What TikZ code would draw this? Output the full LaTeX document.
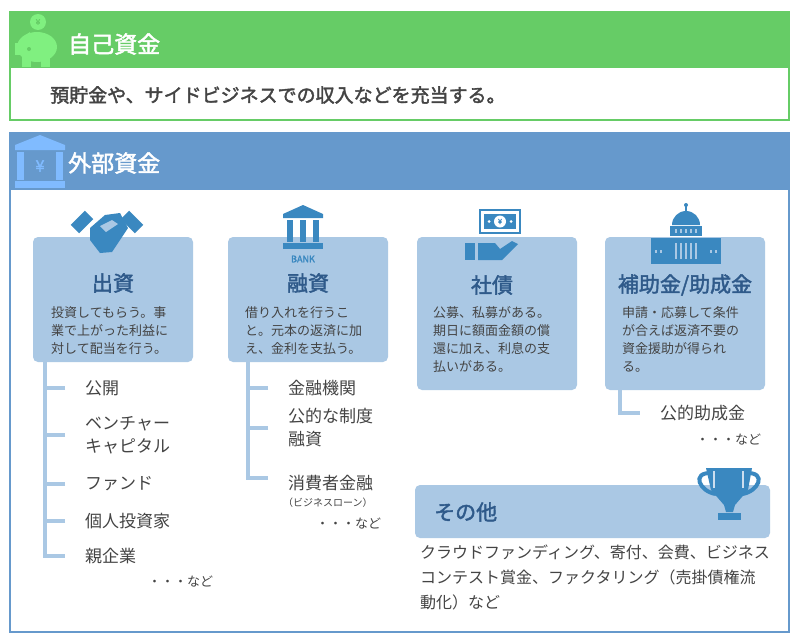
\documentclass[tikz,border=0pt]{standalone}
\usepackage{fontspec}
\setmainfont{Noto Sans CJK JP}
\newfontfamily\jpb{Noto Sans CJK JP}[FakeBold=2]
\definecolor{grn}{HTML}{66CC66}
\definecolor{pig}{HTML}{80F080}
\definecolor{hblue}{HTML}{6699CC}
\definecolor{bankic}{HTML}{80BBFF}
\definecolor{card}{HTML}{AAC8E4}
\definecolor{icon}{HTML}{3A88C0}
\definecolor{ttl}{HTML}{2F5A8A}
\definecolor{txt}{HTML}{444444}
\begin{document}
\begin{tikzpicture}[x=1pt,y=-1pt,
  cardbox/.style={fill=card,rounded corners=5pt,draw=none},
  ctitle/.style={font=\fontsize{21}{24}\selectfont\jpb,text=ttl},
  cdesc/.style={font=\fontsize{13}{18}\selectfont,text=txt,align=left,anchor=north west,inner sep=0},
  item/.style={font=\fontsize{17}{23}\selectfont,text=txt,anchor=west,inner sep=0,align=left},
  tree/.style={draw=card,line width=4pt},
  hdr/.style={font=\fontsize{23}{26}\selectfont\jpb,text=white,anchor=west,inner sep=0}]
\useasboundingbox (0,0) rectangle (800,640);
\fill[white] (0,0) rectangle (800,640);
% self funds
\draw[grn,line width=1.5pt] (10,12) rectangle (789,120);
\fill[grn] (10,12) rectangle (789,68);
\node[hdr] (h1) at (68,44) {自己資金};
\node[font=\fontsize{19}{22}\selectfont\jpb,text=txt,anchor=west,inner sep=0] (b1) at (50,95) {預貯金や、サイドビジネスでの収入などを充当する。};
% piggy
\fill[pig] (38,22) circle (8);
\node[text=grn,font=\fontsize{8}{8}\selectfont\jpb,inner sep=0] (yen1) at (38,22) {¥};
\fill[pig] (37,47) ellipse (20 and 15);
\fill[pig] (15,43) rectangle (22,55);
\fill[pig] (24,36) -- (30,32) -- (32,42) -- cycle;
\fill[pig] (22,55) rectangle (31,67);
\fill[pig] (41,55) rectangle (50,67);
\fill[grn] (29,49) circle (2);
% external funds
\draw[hblue,line width=1.5pt] (10,133) rectangle (789,632);
\fill[hblue] (10,133) rectangle (789,190);
\node[hdr] (h2) at (68,163) {外部資金};
% bank icon
\fill[bankic] (15,145) -- (40,135) -- (65,145) -- (65,150) -- (15,150) -- cycle;
\fill[bankic] (17,152) rectangle (24,180);
\fill[bankic] (56,152) rectangle (63,180);
\fill[bankic] (15,181) rectangle (65,188);
\node[text=bankic,font=\fontsize{16}{16}\selectfont\jpb,inner sep=0] (yen2) at (40,166) {¥};
% cards
\fill[cardbox] (33,237) rectangle (193,362);
\fill[cardbox] (228,237) rectangle (388,362);
\fill[cardbox] (417,237) rectangle (577,390);
\fill[cardbox] (605,237) rectangle (765,390);
\node[ctitle] (t1) at (113,283) {出資};
\node[ctitle] (t2) at (308,283) {融資};
\node[ctitle] (t3) at (492,285) {社債};
\node[ctitle] (t4) at (685,285) {補助金/助成金};
\node[cdesc] (d1) at (51,306) {投資してもらう。事\\業で上がった利益に\\対して配当を行う。};
\node[cdesc] (d2) at (245,306) {借り入れを行うこ\\と。元本の返済に加\\え、金利を支払う。};
\node[cdesc] (d3) at (433,306) {公募、私募がある。\\期日に額面金額の償\\還に加え、利息の支\\払いがある。};
\node[cdesc] (d4) at (622,306) {申請・応募して条件\\が合えば返済不要の\\資金援助が得られ\\る。};
% handshake icon
\begin{scope}[icon]
\fill[rotate around={-45:(82,222)}] (76,212) rectangle (88,232);
\fill[rotate around={45:(132,222)}] (126,212) rectangle (138,232);
\fill (90,228) -- (105,215) -- (120,213) -- (128,228) -- (112,252) -- (100,253) -- (90,240) -- cycle;
\fill[card] (100,226) -- (112,220) -- (118,224) -- (106,232) -- cycle;
% bank
\fill (283,214) -- (303,205) -- (323,214) -- (323,218) -- (283,218) -- cycle;
\fill (287,220) rectangle (293,242);
\fill (300,220) rectangle (306,242);
\fill (313,220) rectangle (319,242);
\fill (283,243) rectangle (323,249);
\node[font=\fontsize{9}{9}\selectfont\jpb,text=icon,inner sep=0] (bank) at (303,259) {BANK};
% money + hand
\draw[line width=1.5pt] (480,210) rectangle (520,233);
\fill (484,214) rectangle (516,229);
\fill[white] (500,221.5) circle (6);
\fill[white] (489,221.5) circle (1.5);
\fill[white] (511,221.5) circle (1.5);
\node[font=\fontsize{7}{7}\selectfont\jpb,text=icon,inner sep=0] (yen3) at (500,221.5) {¥};
\fill (465,243) rectangle (475,260);
\fill (478,243) -- (495,243) -- (500,249) -- (512,241) -- (518,244) -- (502,260) -- (478,260) -- cycle;
% capitol
\fill (686,205) circle (2);
\fill (685.3,206) rectangle (686.7,212);
\fill (672,225) arc (180:360:14) -- cycle;
\fill (670,226) rectangle (702,236);
\fill (651,238) rectangle (721,264);
\foreach \xx in {676,681,686,691,696} {\fill[card] (\xx-1,229) rectangle (\xx+1,233);}
\foreach \xx in {676,681,686,691,696} {\fill[card] (\xx-1,243) rectangle (\xx+1,259);}
\foreach \xx in {656,661,711,716} {\fill[card] (\xx-1,250) rectangle (\xx+1,253);}
\end{scope}
% trees
\coordinate (a0) at (45,362);
\coordinate (a1) at (65,388); \coordinate (a2) at (65,435); \coordinate (a3) at (65,484);
\coordinate (a4) at (65,521); \coordinate (a5) at (65,556);
\draw[tree] (a0) -- (45,556) -- (a5);
\foreach \c in {a1,a2,a3,a4} \draw[tree] (\c) -- (45,0 |- \c);
\node[item] (i1) at (85,388) {公開};
\node[item] (i2) at (85,435) {ベンチャー\\キャピタル};
\node[item] (i3) at (85,484) {ファンド};
\node[item] (i4) at (85,521) {個人投資家};
\node[item] (i5) at (85,556) {親企業};
\node[item,font=\fontsize{13}{16}\selectfont] (e1) at (148,582) {・・・など};
\coordinate (b0) at (248,362);
\coordinate (b1) at (268,388); \coordinate (b2) at (268,428); \coordinate (b3) at (268,478);
\draw[tree] (b0) -- (248,478) -- (b3);
\foreach \c in {b1,b2} \draw[tree] (\c) -- (248,0 |- \c);
\node[item] (j1) at (288,388) {金融機関};
\node[item] (j2) at (288,428) {公的な制度\\融資};
\node[item] (j3) at (288,483) {消費者金融};
\node[item,font=\fontsize{10}{12}\selectfont] (j4) at (283,503) {（ビジネスローン）};
\node[item,font=\fontsize{13}{16}\selectfont] (e2) at (316,524) {・・・など};
\coordinate (c0) at (620,390); \coordinate (c1) at (640,413);
\draw[tree] (c0) -- (620,413) -- (c1);
\node[item] (k1) at (660,413) {公的助成金};
\node[item,font=\fontsize{13}{16}\selectfont] (e3) at (696,440) {・・・など};
% other
\fill[cardbox] (415,485) rectangle (770,538);
\node[ctitle,anchor=west,inner sep=0] (t5) at (434,512) {その他};
\begin{scope}[icon]
\fill (706,468) -- (752,468) -- (748,490) -- (735,505) -- (733,512) -- (726,512) -- (724,505) -- (711,490) -- cycle;
\draw[line width=4pt] (712,473) .. controls (690,472) and (700,492) .. (716,494);
\draw[line width=4pt] (746,473) .. controls (768,472) and (758,492) .. (742,494);
\fill (718,513) rectangle (741,520);
\fill[card!60!white] (713,471) rectangle (715,488);
\fill[card!60!white] (742,471) rectangle (744,488);
\end{scope}
\node[cdesc,font=\fontsize{16}{25}\selectfont] (o1) at (420,545) {クラウドファンディング、寄付、会費、ビジネス\\コンテスト賞金、ファクタリング（売掛債権流\\動化）など};
\end{tikzpicture}
\end{document}
